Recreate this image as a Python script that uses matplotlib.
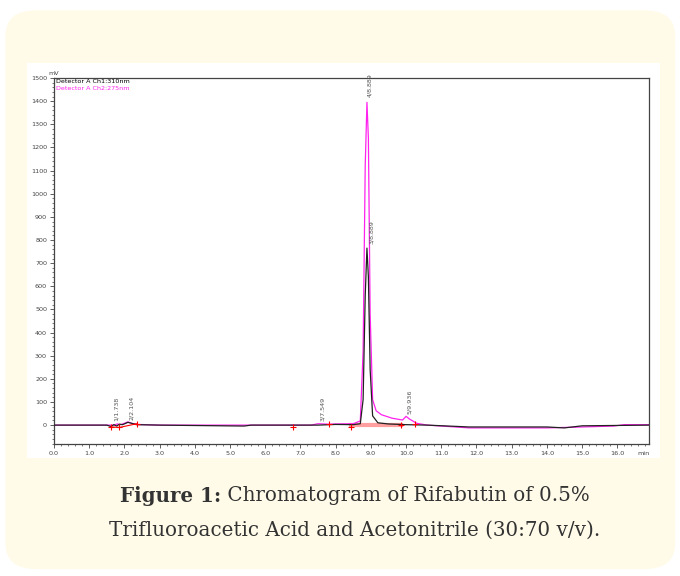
import matplotlib
matplotlib.use("Agg")
import matplotlib.pyplot as plt
from matplotlib.patches import FancyBboxPatch, Rectangle
from matplotlib.ticker import MultipleLocator, FormatStrFormatter

# detector traces, (time in min, signal in mV)
ch1_time = [0.0, 1.5, 1.62, 1.7, 1.78, 1.86, 1.95, 2.1, 2.2, 2.35, 3.0, 5.4, 5.6, 7.5, 8.0, 8.5,
            8.7, 8.78, 8.84, 8.889, 8.93, 8.98, 9.05, 9.2, 9.5, 10.0, 10.6, 11.8, 13.0, 14.0,
            14.5, 15.0, 16.9]
ch1_mv = [0, 0, -6, 2, -4, 4, 2, 12, 8, 2, 0, -4, 0, 0, 3, 2,
          6, 110, 560, 765, 640, 240, 40, 10, 5, 2, 0, -8, -8, -8,
          -12, -3, 0]

ch2_time = [0.0, 1.5, 1.7, 1.8, 1.9, 2.1, 2.2, 2.35, 3.0, 7.3, 7.5, 7.8, 8.0, 8.5, 8.7, 8.78,
            8.84, 8.889, 8.93, 8.98, 9.05, 9.15, 9.3, 9.6, 9.9, 10.0, 10.1, 10.3, 10.6, 11.8,
            13.0, 14.0, 15.0, 15.9, 16.2, 16.9]
ch2_mv = [0, 0, 0, 5, 2, 14, 8, 3, 0, 0, 6, 4, 5, 6, 18, 320,
          1120, 1395, 1240, 480, 110, 62, 45, 30, 22, 38, 26, 8, 0, -12,
          -12, -12, -8, -4, 2, 2]

# integration baseline points and peak labels
base_time = [1.62, 1.86, 2.35, 6.8, 7.8, 8.45, 9.86, 10.25]
base_mv = [-8, -10, 6, -6, 4, -6, 2, 4]
peak_labels = ["1/1.738", "2/2.104", "3/7.549", "3/8.889", "4/8.889", "5/9.936"]
peak_time = [1.76, 2.2, 7.62, 9.02, 8.96, 10.1]
peak_mv = [10, 14, 10, 775, 1410, 40]

card = "#fffbe8"
fig = plt.figure(figsize=(6.8, 5.76), dpi=100)
fig.patch.set_facecolor("white")
fig.patches.append(FancyBboxPatch((0.008, 0.012), 0.985, 0.97, boxstyle="round,pad=0,rounding_size=0.045",
                                  transform=fig.transFigure, facecolor=card, edgecolor="none", zorder=-2))
fig.patches.append(Rectangle((0.040, 0.205), 0.931, 0.686, transform=fig.transFigure,
                             facecolor="white", edgecolor="none", zorder=-1))

ax = fig.add_axes([0.0794, 0.229, 0.875, 0.6355])
ax.set_zorder(2)
ax.set_facecolor("white")
ax.plot(ch1_time, ch1_mv, color="#222222", lw=0.9, zorder=3)
ax.plot(ch2_time, ch2_mv, color="#ff22ee", lw=0.9, zorder=2)

# red integration baselines
ax.plot(base_time[:3], base_mv[:3], color="red", lw=0.8, zorder=4)
ax.plot(base_time[5:7], [0, 0], color="#ff6060", lw=3, alpha=0.6, zorder=1)
ax.plot(base_time, base_mv, "+", color="red", ms=4, mew=0.8, ls="none", zorder=5)

for lab, t, v in zip(peak_labels, peak_time, peak_mv):
    ax.text(t, v + 8, lab, rotation=90, fontsize=4.6, color="#555555", ha="center", va="bottom")

ax.xaxis.set_minor_locator(MultipleLocator(0.2))
ax.yaxis.set_minor_locator(MultipleLocator(20))
ax.xaxis.set_major_formatter(FormatStrFormatter("%.1f"))
ax.set_xticks([float(t) for t in range(17)])
ax.set_xlim(0, 16.9)
ax.set_yticks(range(0, 1501, 100))
ax.set_ylim(-82, 1500)
ax.tick_params(labelsize=4.6, colors="#444444", length=3, width=0.6, pad=2)
ax.tick_params(which="minor", length=1.6, width=0.5, colors="#444444")
for s in ax.spines.values():
    s.set_color("#444444")
    s.set_linewidth(0.9)

ax.text(0.0, 1.005, "mV", transform=ax.transAxes, fontsize=4.6, color="#444444", ha="center", va="bottom")
ax.text(0.99, -0.018, "min", transform=ax.transAxes, fontsize=4.6, color="#444444", ha="center", va="top")
ax.text(0.003, 0.997, "Detector A Ch1:310nm", transform=ax.transAxes, fontsize=4.6, color="black", va="top")
ax.text(0.003, 0.978, "Detector A Ch2:275nm", transform=ax.transAxes, fontsize=4.6, color="#ff22ee", va="top")

# caption, bold label followed by plain text
cap_kw = dict(fontsize=14.3, family="DejaVu Serif", va="center", color="#333333")
line1_bold = "Figure 1:"
line1_rest = " Chromatogram of Rifabutin of 0.5%"
tb = fig.text(0, 0.139, line1_bold, weight="bold", **cap_kw)
tr = fig.text(0, 0.139, line1_rest, **cap_kw)
fig.canvas.draw()
r = fig.canvas.get_renderer()
wb = tb.get_window_extent(r).width / fig.bbox.width
wr = tr.get_window_extent(r).width / fig.bbox.width
x0 = 0.522 - (wb + wr) / 2
tb.set_x(x0)
tr.set_x(x0 + wb)
fig.text(0.522, 0.079, "Trifluoroacetic Acid and Acetonitrile (30:70 v/v).", ha="center", **cap_kw)

fig.savefig("out.png", dpi=100, facecolor="white")
